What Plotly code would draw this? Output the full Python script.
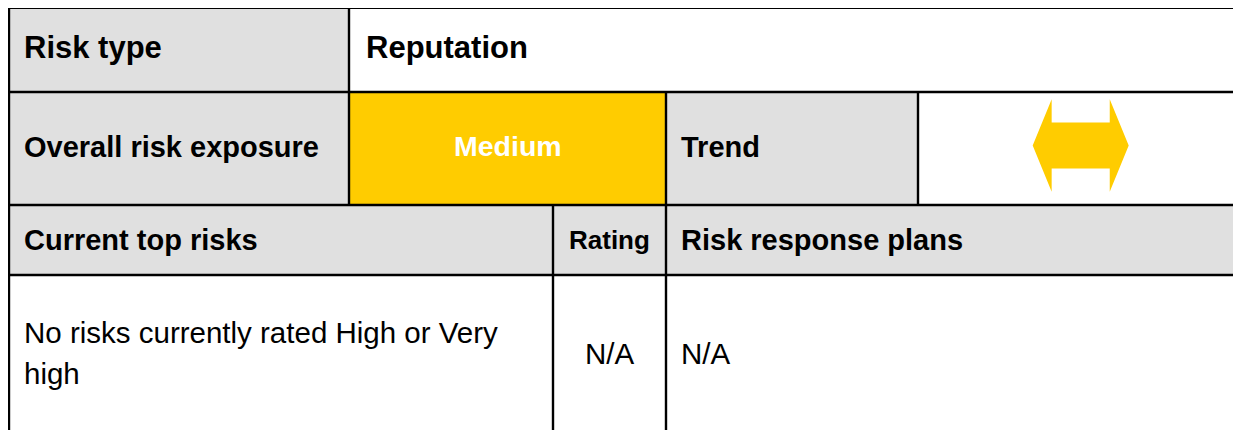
import plotly.graph_objects as go

W, H = 1241, 430
PAGE_MARGIN = 8  # default body margin of the written html page

# --- content -------------------------------------------------------------
risk_type_label = "Risk type"
risk_type_value = "Reputation"
exposure_label = "Overall risk exposure"
exposure_value = "Medium"
trend_label = "Trend"
header_labels = ["Current top risks", "Rating", "Risk response plans"]
top_risk_lines = ["No risks currently rated High or Very", "high"]
rating_value = "N/A"
response_value = "N/A"

# --- layout grid (page pixels) -----------------------------------------
col_x = [9, 349, 553, 666, 918, 1260]
row_y = [7.7, 92, 205, 275, 440]

GRAY = "#e0e0e0"
YELLOW = "#ffcc00"
FONT = "Liberation Sans, Arial, sans-serif"

fig = go.Figure()
shapes = []


def rect(x0, x1, y0, y1, color):
    shapes.append(dict(type="rect", xref="x", yref="y", x0=x0, x1=x1, y0=y0, y1=y1,
                       fillcolor=color, line=dict(width=0), layer="below"))


def line(x0, y0, x1, y1):
    shapes.append(dict(type="line", xref="x", yref="y", x0=x0, y0=y0, x1=x1, y1=y1,
                       line=dict(color="black", width=2.4)))


# fills
rect(col_x[0], col_x[1], row_y[0], row_y[1], GRAY)
rect(col_x[1], col_x[5], row_y[0], row_y[1], "white")
rect(col_x[0], col_x[1], row_y[1], row_y[2], GRAY)
rect(col_x[1], col_x[3], row_y[1], row_y[2], YELLOW)
rect(col_x[3], col_x[4], row_y[1], row_y[2], GRAY)
rect(col_x[0], col_x[5], row_y[2], row_y[3], GRAY)

# borders
for y in row_y[:4]:
    line(col_x[0] - 1.2, y, col_x[5], y)
line(col_x[0], row_y[0] - 1.2, col_x[0], row_y[4])
line(col_x[1], row_y[0], col_x[1], row_y[2])
line(col_x[3], row_y[1], col_x[3], row_y[4])
line(col_x[4], row_y[1], col_x[4], row_y[2])
line(col_x[2], row_y[2], col_x[2], row_y[4])

# trend arrow (double-headed, horizontal) -- shape in units relative to its centre
arrow_u = [(-1.0, 0), (-0.605, -1), (-0.605, -0.5), (0.605, -0.5), (0.605, -1), (1.0, 0),
           (0.605, 1), (0.605, 0.5), (-0.605, 0.5), (-0.605, 1), (-1.0, 0)]
acx, acy, ahw, ahh = 1080.7, 145.5, 48, 46.2
fig.add_trace(go.Scatter(
    x=[acx + u * ahw for u, v in arrow_u],
    y=[acy + v * ahh for u, v in arrow_u],
    mode="lines", fill="toself", fillcolor=YELLOW, line=dict(width=0),
    hoverinfo="skip", showlegend=False))

annotations = []


def text(x, y, s, size, bold=True, color="black", anchor="left"):
    annotations.append(dict(xref="x", yref="y", x=x, y=y, text=f"<b>{s}</b>" if bold else s,
                            showarrow=False, xanchor=anchor, yanchor="middle",
                            font=dict(family=FONT, size=size, color=color)))


text(22, 47, risk_type_label, 31)
text(364, 47, risk_type_value, 31)
text(22, 147, exposure_label, 29)
text(507.5, 146, exposure_value, 28.5, color="white", anchor="center")
text(679, 147, trend_label, 29)
text(22, 240, header_labels[0], 29)
text(609.5, 240, header_labels[1], 26, anchor="center")
text(679, 240, header_labels[2], 29)
text(22, 332, top_risk_lines[0], 29.5, bold=False)
text(22, 373, top_risk_lines[1], 29.5, bold=False)
text(609.5, 353, rating_value, 29.5, bold=False, anchor="center")
text(679, 353, response_value, 29.5, bold=False)

fig.update_layout(
    width=W, height=H - PAGE_MARGIN, margin=dict(l=0, r=0, t=0, b=0),
    paper_bgcolor="white", plot_bgcolor="white",
    xaxis=dict(range=[PAGE_MARGIN, W + PAGE_MARGIN], visible=False, fixedrange=True),
    yaxis=dict(range=[H, PAGE_MARGIN], visible=False, fixedrange=True),
    shapes=shapes, annotations=annotations,
)

fig.write_html("out.html")
